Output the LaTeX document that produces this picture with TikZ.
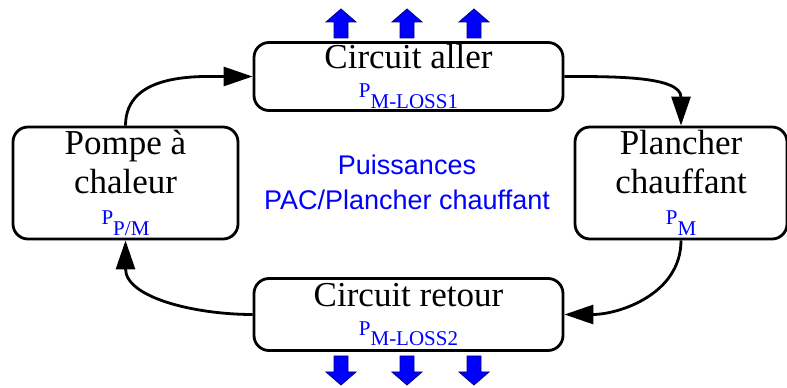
\documentclass[tikz,border=0pt]{standalone}
\usepackage{fontspec}
\setmainfont{Liberation Serif}
\setsansfont{Liberation Sans}
\usepackage{tikz}
\usetikzlibrary{arrows.meta,positioning}
\newcommand{\puiss}[1]{{\color{blue}\fontsize{21}{21}\selectfont P\raisebox{-10.5pt}{#1}}}

\begin{document}
\begin{tikzpicture}[x=1pt,y=1pt,
			bloc/.style={draw,line width=2.8pt,rounded corners=15pt,align=center,inner sep=0pt,font=\fontsize{35}{39}\selectfont},
			arr/.style={-{Triangle[length=29pt,width=19pt]},line width=2.8pt},
			perte/.style={fill=blue,draw=blue!50!black,line width=0.8pt}
			]
			\useasboundingbox (0,0) rectangle (787,388);
			\node[bloc,minimum width=309pt,minimum height=68pt] (aller) at (408.5,311.5) {Circuit aller\\[-10pt]\puiss{M-LOSS1}};
			\node[bloc,minimum width=309pt,minimum height=72pt] (retour) at (408.5,73.5) {Circuit retour\\[-10pt]\puiss{M-LOSS2}};
			\node[bloc,minimum width=225pt,minimum height=112pt] (pompe) at (125.5,205) {Pompe \`a\\chaleur\\[-8pt]\puiss{P/M}};
			\node[bloc,minimum width=212pt,minimum height=112pt] (plancher) at (681,205) {Plancher\\chauffant\\[-8pt]\puiss{M}};
			\node[font=\sffamily\fontsize{27}{35}\selectfont,text=blue,align=center] (titre) at (407,205.5) {Puissances\\PAC/Plancher chauffant};
			\draw[arr] (pompe.north) to[out=90,in=180] (aller.west);
			\draw[arr] (aller.east) to[out=0,in=90] (plancher.north);
			\draw[arr] (plancher.south) to[out=-90,in=0] (retour.east);
			\draw[arr] (retour.west) to[out=180,in=-90] (pompe.south);
			\foreach \x in {341,407,474}{
				\draw[perte] (\x-7,350) -- (\x-7,366) -- (\x-15,366) -- (\x,379) -- (\x+15,366) -- (\x+7,366) -- (\x+7,350) -- cycle;
				\draw[perte] (\x-7,32) -- (\x-7,16) -- (\x-15,16) -- (\x,3) -- (\x+15,16) -- (\x+7,16) -- (\x+7,32) -- cycle;
			}
		\end{tikzpicture}
\end{document}
